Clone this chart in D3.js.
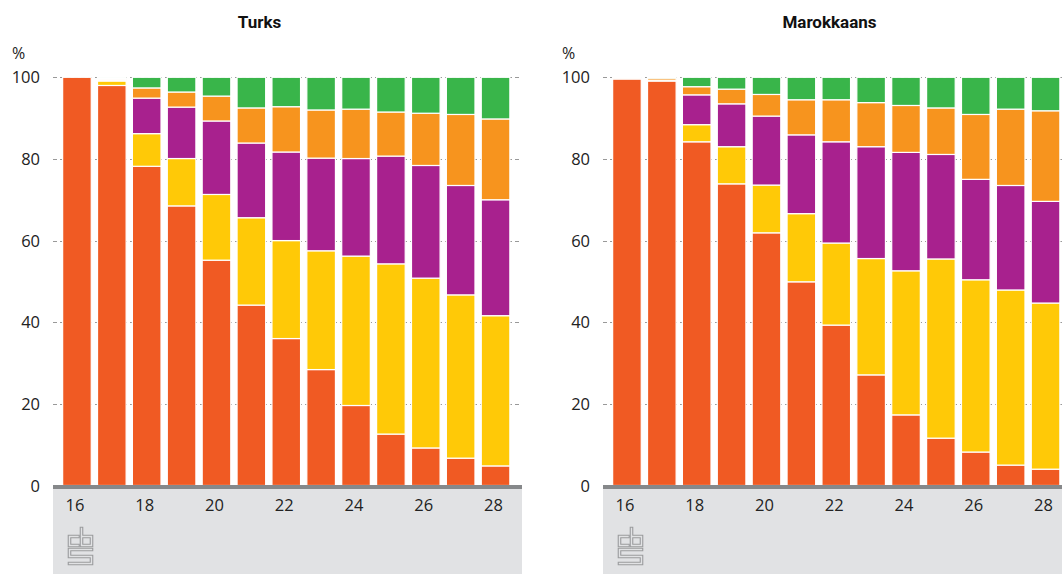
<!DOCTYPE html>
<html lang="nl">
<head>
<meta charset="UTF-8">
<title>Turks / Marokkaans</title>
<style>
  body { margin: 0; background: #fff; }
  svg text { font-family: "Open Sans", "DejaVu Sans", sans-serif; }
</style>
</head>
<body>
<svg id="chart" width="1062" height="574"></svg>
<script src="https://cdnjs.cloudflare.com/ajax/libs/d3/7.8.5/d3.min.js"></script>
<script>
// leeftijden (x-as)
const ages = [16, 17, 18, 19, 20, 21, 22, 23, 24, 25, 26, 27, 28];
const ageTicks = [16, 18, 20, 22, 24, 26, 28];
const yTicks = [0, 20, 40, 60, 80, 100];

// categorieen, van onder naar boven gestapeld
const categories = ["cat1", "cat2", "cat3", "cat4", "cat5"];
const colors = ["#f05a23", "#ffc907", "#a8218e", "#f7941e", "#39b54a"];

// Turks, percentages per leeftijd
const turksCat1 = [100, 98.0, 78.2, 68.5, 55.2, 44.2, 36.0, 28.4, 19.6, 12.6, 9.2, 6.7, 4.8];
const turksCat2 = [0, 1.1, 8.0, 11.6, 16.1, 21.4, 24.0, 29.1, 36.6, 41.7, 41.6, 40.0, 36.8];
const turksCat3 = [0, 0.3, 8.7, 12.6, 18.0, 18.3, 21.7, 22.7, 23.9, 26.4, 27.6, 26.8, 28.4];
const turksCat4 = [0, 0.3, 2.5, 3.7, 6.1, 8.6, 11.1, 11.8, 12.1, 10.8, 12.8, 17.4, 19.8];
const turksCat5 = [0, 0.3, 2.6, 3.6, 4.6, 7.5, 7.2, 8.0, 7.8, 8.5, 8.8, 9.1, 10.2];

// Marokkaans, percentages per leeftijd
const marCat1 = [99.6, 99.1, 84.2, 73.9, 61.9, 49.9, 39.3, 27.1, 17.3, 11.6, 8.2, 5.0, 4.0];
const marCat2 = [0.1, 0.1, 4.2, 9.1, 11.7, 16.7, 20.1, 28.5, 35.3, 43.9, 42.2, 42.9, 40.7];
const marCat3 = [0.1, 0.1, 7.3, 10.5, 16.9, 19.3, 24.8, 27.4, 29.0, 25.6, 24.6, 25.6, 24.9];
const marCat4 = [0.1, 0.5, 2.0, 3.6, 5.3, 8.6, 10.3, 10.8, 11.5, 11.4, 15.9, 18.7, 22.2];
const marCat5 = [0.1, 0.2, 2.3, 2.9, 4.2, 5.5, 5.5, 6.2, 6.9, 7.5, 9.1, 7.8, 8.2];

function toRows(cols) {
    return ages.map((a, i) => {
        const row = { age: a };
        categories.forEach((c, j) => row[c] = cols[j][i]);
        return row;
    });
}

const svg = d3.select('#chart');

const y = d3.scaleLinear().domain([0, 100]).range([485.5, 77.3]);
const stack = d3.stack().keys(categories);

function drawPanel(offset, title, titleX, rows) {
    const g = svg.append('g').attr('transform', `translate(${offset},0)`);

    const gridLeft = 53, gridRight = 521;

    const x = d3.scaleBand()
        .domain(ages)
        .range([59.5, 513])
        .paddingInner(0.18)
        .paddingOuter(0.09);

    // grijs vlak onder de as
    g.append('rect')
        .attr('x', gridLeft).attr('y', 487)
        .attr('width', gridRight - gridLeft + 1).attr('height', 90)
        .attr('fill', '#e1e2e4');

    // gridlijnen
    g.selectAll('.grid')
        .data(yTicks.filter(d => d > 0))
        .enter().append('line')
        .attr('x1', gridLeft).attr('x2', gridRight)
        .attr('y1', d => Math.round(y(d)) + 0.5)
        .attr('y2', d => Math.round(y(d)) + 0.5)
        .attr('stroke', '#999')
        .attr('stroke-dasharray', '4,3');

    // y labels
    g.selectAll('.ylab')
        .data(yTicks)
        .enter().append('text')
        .attr('x', 40)
        .attr('y', d => y(d) + 6)
        .attr('text-anchor', 'end')
        .attr('font-size', 16.5)
        .attr('fill', '#222')
        .text(d => d);

    g.append('text')
        .attr('x', 12).attr('y', 59)
        .attr('font-size', 16)
        .attr('fill', '#222')
        .text('%');

    // titel
    g.append('text')
        .attr('x', titleX - offset).attr('y', 28)
        .attr('text-anchor', 'middle')
        .attr('font-size', 17)
        .attr('font-weight', 'bold')
        .attr('fill', '#111')
        .style('font-family', 'Roboto, "Open Sans", sans-serif')
        .text(title);

    // staven
    const series = stack(rows);
    g.selectAll('.serie')
        .data(series)
        .enter().append('g')
        .attr('fill', (d, i) => colors[i])
        .selectAll('rect')
        .data(d => d)
        .enter().append('rect')
        .attr('x', d => x(d.data.age))
        .attr('width', x.bandwidth())
        .attr('y', d => y(d[1]))
        .attr('height', d => Math.max(0, y(d[0]) - y(d[1])))
        .attr('stroke', '#fff')
        .attr('stroke-width', 1.2);

    // x-as
    g.append('rect')
        .attr('x', gridLeft).attr('y', 485)
        .attr('width', gridRight - gridLeft + 1).attr('height', 4)
        .attr('fill', '#86888a');

    g.selectAll('.xlab')
        .data(ageTicks)
        .enter().append('text')
        .attr('x', d => x(d) + x.bandwidth() / 2 - 2)
        .attr('y', 511)
        .attr('text-anchor', 'middle')
        .attr('font-size', 16.5)
        .attr('fill', '#222')
        .text(d => d);

    // cbs logo (benadering)
    const logo = g.append('g').attr('transform', 'translate(68,527)');
    const paths = [
        [[10, 9.5], [1.5, 9.5], [1.5, 18.5], [10, 18.5]],
        [[13.5, 1.5], [13.5, 18.5], [23.5, 18.5], [23.5, 9.5], [13.5, 9.5]],
        [[23.5, 22.5], [1.5, 22.5], [1.5, 29.5], [23.5, 29.5], [23.5, 36.5], [1.5, 36.5]]
    ];
    const line = d3.line();
    paths.forEach(p => {
        logo.append('path').attr('d', line(p)).attr('fill', 'none')
            .attr('stroke', '#9a9b9d').attr('stroke-width', 3.6)
            .attr('stroke-linejoin', 'miter').attr('stroke-linecap', 'square');
        logo.append('path').attr('d', line(p)).attr('fill', 'none')
            .attr('stroke', '#e1e2e4').attr('stroke-width', 1.4)
            .attr('stroke-linejoin', 'miter').attr('stroke-linecap', 'square');
    });
}

drawPanel(0, 'Turks', 259.5, toRows([turksCat1, turksCat2, turksCat3, turksCat4, turksCat5]));
drawPanel(550, 'Marokkaans', 829.5, toRows([marCat1, marCat2, marCat3, marCat4, marCat5]));
</script>
</body>
</html>
